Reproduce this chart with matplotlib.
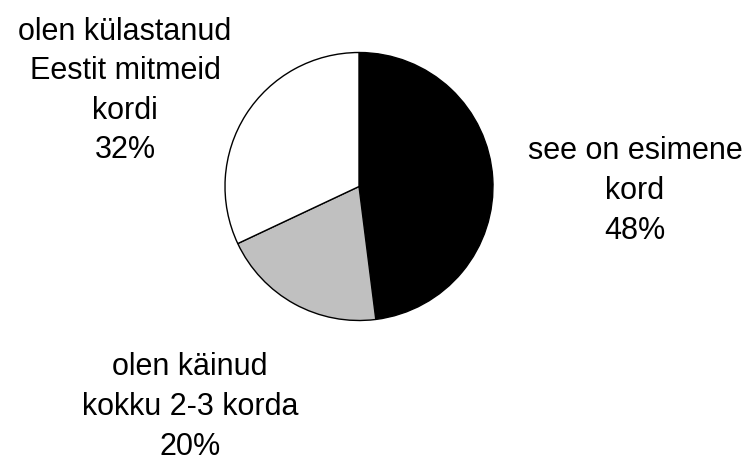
import matplotlib
matplotlib.use("Agg")
import matplotlib.pyplot as plt

plt.rcParams["font.family"] = ["Liberation Sans", "DejaVu Sans"]

labels = ["see on esimene\nkord", "olen käinud\nkokku 2-3 korda", "olen külastanud\nEestit mitmeid\nkordi"]
shares = [48, 20, 32]
colors = ["#000000", "#c0c0c0", "#ffffff"]
label_pos = [(635, 272), (190, 56), (125, 372)]

fig = plt.figure(figsize=(7.47, 4.63), dpi=100)
ax = fig.add_axes([0, 0, 1, 1])

ax.pie(shares, colors=colors, startangle=90, counterclock=False,
       center=(359, 276.5), radius=134, frame=True,
       wedgeprops=dict(edgecolor="black", linewidth=1))
ax.set_xlim(0, 747)
ax.set_ylim(0, 463)
ax.set_aspect("equal")
ax.axis("off")

for lab, v, (x, y) in zip(labels, shares, label_pos):
    ax.text(x, y, f"{lab}\n{v}%", ha="center", va="center",
            fontsize=22, linespacing=1.42)

fig.savefig("out.png", dpi=100)
